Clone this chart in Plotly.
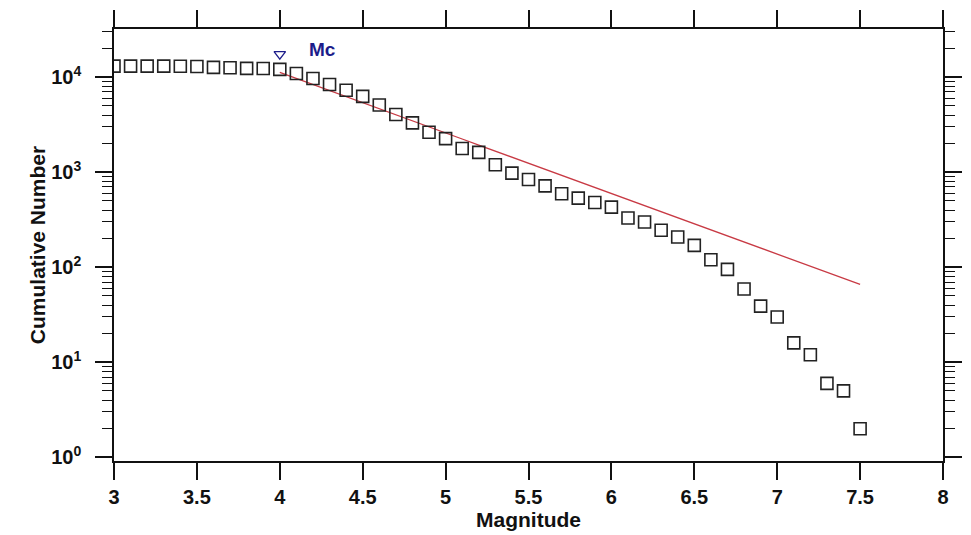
import plotly.graph_objects as go

# Observed cumulative numbers (squares)
magnitudes = [3.0, 3.1, 3.2, 3.3, 3.4, 3.5, 3.6, 3.7, 3.8, 3.9,
              4.0, 4.1, 4.2, 4.3, 4.4, 4.5, 4.6, 4.7, 4.8, 4.9,
              5.0, 5.1, 5.2, 5.3, 5.4, 5.5, 5.6, 5.7, 5.8, 5.9,
              6.0, 6.1, 6.2, 6.3, 6.4, 6.5, 6.6, 6.7, 6.8, 6.9,
              7.0, 7.1, 7.2, 7.3, 7.4, 7.5]
cumulative = [13100, 13100, 13100, 13100, 13050, 13000, 12700, 12600, 12400, 12350,
              12100, 10970, 9700, 8400, 7300, 6300, 5100, 4050, 3310, 2640,
              2260, 1780, 1620, 1200, 980, 840, 720, 595, 535, 480,
              430, 330, 300, 245, 208, 170, 120, 95, 59, 39,
              30, 16, 12, 6, 5, 2]

# Fitted Gutenberg-Richter line
fit_mag = [4.0, 4.1, 4.2, 4.3, 4.4, 4.5, 4.6, 4.7, 4.8, 4.9,
           5.0, 5.1, 5.2, 5.3, 5.4, 5.5, 5.6, 5.7, 5.8, 5.9,
           6.0, 6.1, 6.2, 6.3, 6.4, 6.5, 6.6, 6.7, 6.8, 6.9,
           7.0, 7.1, 7.2, 7.3, 7.4, 7.5]
fit_n = [11250, 9700, 8400, 7250, 6250, 5400, 4660, 4030, 3480, 3000,
         2590, 2240, 1935, 1670, 1440, 1245, 1075, 930, 800, 693,
         598, 517, 446, 385, 333, 287, 248, 214, 185, 160,
         138, 119, 103, 89, 77, 66]

mc_mag = [4.0]
mc_marker_n = [17500]

x_ticks = [3, 3.5, 4, 4.5, 5, 5.5, 6, 6.5, 7, 7.5, 8]
x_ticktext = ["3", "3.5", "4", "4.5", "5", "5.5", "6", "6.5", "7", "7.5", "8"]
y_ticks = [1, 10, 100, 1000, 10000]
y_ticktext = ["10<sup>0</sup>", "10<sup>1</sup>", "10<sup>2</sup>", "10<sup>3</sup>", "10<sup>4</sup>"]
y_minor = [m * 10 ** e for e in range(0, 5) for m in range(2, 10)]

fig = go.Figure()

fig.add_trace(go.Scatter(
    x=fit_mag, y=fit_n, mode="lines",
    line=dict(color="#c83a44", width=1.3),
    hoverinfo="skip", showlegend=False))

fig.add_trace(go.Scatter(
    x=magnitudes, y=cumulative, mode="markers",
    marker=dict(symbol="square-open", size=12, color="#222222",
                line=dict(width=1.6, color="#222222")),
    showlegend=False))

fig.add_trace(go.Scatter(
    x=mc_mag, y=mc_marker_n, mode="markers",
    marker=dict(symbol="triangle-down-open", size=10, color="#1c1c8a",
                line=dict(width=1.3, color="#1c1c8a")),
    showlegend=False))

fig.add_annotation(x=4.255, y=4.29, xref="x", yref="y", text="<b>Mc</b>",
                   showarrow=False, font=dict(family="Liberation Sans, Arial", size=19, color="#1c1c8a"))

tick_font = dict(family="Liberation Sans, Arial", size=20, color="#111111")
title_font = dict(family="Liberation Sans, Arial", size=21, color="#111111")

fig.update_xaxes(
    range=[3, 8], tickvals=x_ticks, ticktext=["<b>%s</b>" % t for t in x_ticktext],
    ticks="outside", ticklen=17, tickwidth=1.5, tickcolor="#111",
    showline=True, linecolor="#111", linewidth=1.5, mirror="ticks",
    showgrid=False, zeroline=False, tickfont=tick_font, ticklabelstandoff=0,
    automargin=False,
    title=dict(text="<b>Magnitude</b>", font=title_font, standoff=0))

fig.update_yaxes(
    type="log", range=[-0.039, 4.508],
    tickvals=y_ticks, ticktext=["<b>%s</b>" % t for t in y_ticktext],
    ticks="outside", ticklen=17, tickwidth=1.5, tickcolor="#111",
    minor=dict(tickvals=y_minor, ticks="outside", ticklen=10, tickwidth=1.2, tickcolor="#111"),
    showline=True, linecolor="#111", linewidth=1.5, mirror="ticks",
    showgrid=False, zeroline=False, tickfont=tick_font, ticklabelstandoff=10,
    automargin=False,
    title=dict(text="<b>Cumulative Number</b>", font=title_font, standoff=0))

fig.update_layout(
    width=971, height=535,
    margin=dict(l=106, r=36, t=21, b=82),
    plot_bgcolor="white", paper_bgcolor="white",
    font=tick_font)

fig.write_html("out.html")
